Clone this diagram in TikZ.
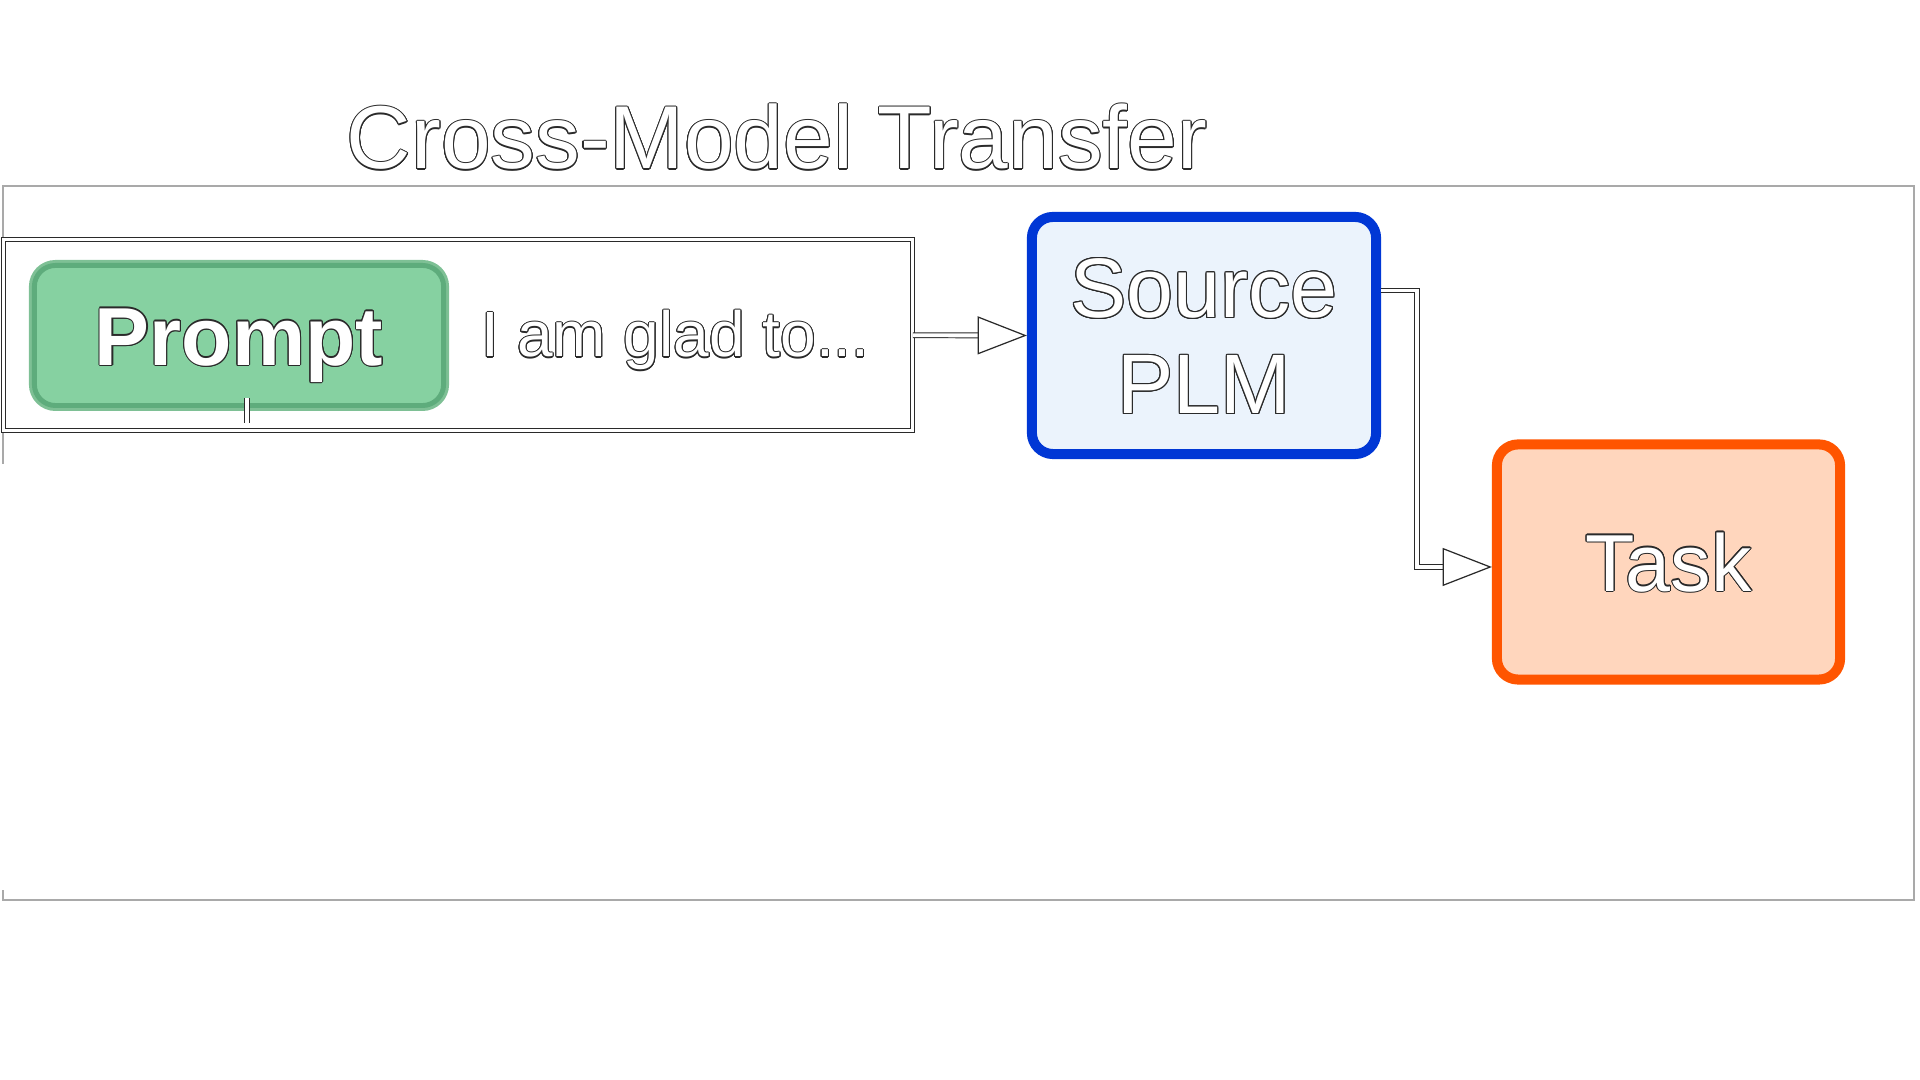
\documentclass[tikz,border=0pt]{standalone}
\usepackage{fontspec}
\setmainfont{Liberation Sans}
\usepackage{contour}
\contourlength{0.3pt}
\usetikzlibrary{arrows.meta,calc}
\definecolor{promptFill}{HTML}{86D1A1}
\definecolor{promptDark}{HTML}{5EAC7C}
\definecolor{promptLight}{HTML}{7EC095}
\definecolor{srcBorder}{HTML}{0037D5}
\definecolor{srcFill}{HTML}{EBF3FC}
\definecolor{taskBorder}{HTML}{FF5500}
\definecolor{taskFill}{HTML}{FFD6BD}
\definecolor{frameGray}{HTML}{A9A9A9}
\definecolor{edgeDark}{HTML}{2A2A2A}
\newcommand{\outtxt}[1]{{\color{white}\contour{edgeDark}{#1}}}
\tikzset{
  frame/.style={draw=frameGray, line width=0.7pt},
  holder/.style={draw=edgeDark, line width=0.28pt, double=white, double distance=0.85pt,
    rectangle, inner sep=0pt},
  boxbase/.style={rectangle, rounded corners=6pt, inner sep=0pt, align=center},
  promptbox/.style={boxbase, fill=promptFill, draw=promptDark, line width=1.4pt,
    preaction={draw=promptLight, line width=3.1pt},
    minimum width=4.09cm, minimum height=1.4cm,
    font=\fontsize{23.4}{27}\bfseries\selectfont, text height=16.8pt, text depth=0pt},
  srcbox/.style={boxbase, fill=srcFill, draw=srcBorder, line width=2.85pt,
    minimum width=3.44cm, minimum height=2.37cm,
    font=\fontsize{24}{27.3}\selectfont, text height=44.5pt, text depth=0pt},
  taskbox/.style={boxbase, fill=taskFill, draw=taskBorder, line width=2.85pt,
    minimum width=3.43cm, minimum height=2.35cm,
    font=\fontsize{23}{27}\selectfont, text height=16.5pt, text depth=0pt},
  conn/.style={draw=edgeDark, line width=0.28pt, double=white, double distance=1.1pt,
    -{Triangle[length=14pt, width=10.8pt, line width=0.35pt, fill=white]}},
  stubline/.style={draw=edgeDark, line width=0.28pt, double=white, double distance=0.9pt},
}
\begin{document}
\begin{tikzpicture}[x=0.01cm, y=-0.01cm]
\useasboundingbox (0,0) rectangle (1920,1080);
% outer frame (left side only partly visible)
\draw[frame] (3,237) -- (3,186) -- (1914,186) -- (1914,900) -- (3,900) -- (3,890);
\draw[frame] (3,433) -- (3,464);
% title
\node[anchor=base, font=\fontsize{25.4}{30}\selectfont, inner sep=0pt] (title) at (777,169) {\outtxt{Cross-Model Transfer}};
% prompt holder
\node[holder, minimum width=9.085cm, minimum height=1.905cm] (holder) at (457.75,335.25) {};
\node[promptbox] (prompt) at (239,335.5) {\outtxt{Prompt}};
\node[anchor=base west, inner sep=0pt, font=\fontsize{18.2}{21}\selectfont] (text) at (481,357) {\outtxt{I am glad to...}};
\coordinate (stubend) at (247,423);
\draw[stubline] (247,398) -- (stubend);
% models
\node[srcbox] (src) at (1204,335.5) {\outtxt{Source}\\\outtxt{PLM}};
\node[taskbox] (task) at (1668.5,562) {\outtxt{Task}};
% connectors
\draw[conn] (holder.east) -- (src.west);
\draw[conn] ($(src.east)+(0,-45)$) -- ++(36,0) |- ($(task.west)+(0,5)$);
\end{tikzpicture}
\end{document}
